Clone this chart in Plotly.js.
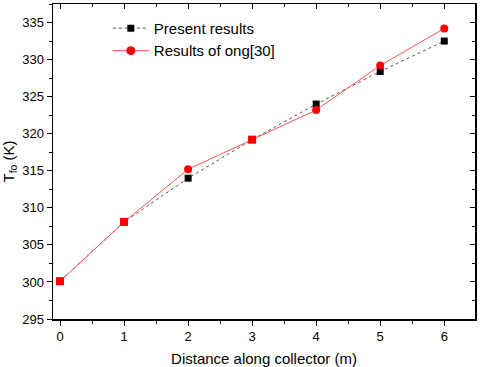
<!DOCTYPE html>
<html>
<head>
<meta charset="utf-8">
<script src="https://cdn.plot.ly/plotly-3.0.1.min.js"></script>
<style>
  html, body { margin: 0; padding: 0; background: #fff; }
  #plot { width: 480px; height: 367px; }
</style>
</head>
<body>
<div id="plot"></div>
<script>
// distance along collector (m)
const distance = [0, 1, 2, 3, 4, 5, 6];
// T_fo (K)
const present = [300.1, 308.1, 314.0, 319.2, 324.0, 328.4, 332.5];
const ong30 = [300.1, 308.1, 315.2, 319.2, 323.2, 329.2, 334.2];
// red markers look square where both series coincide
const ongSymbols = ["square", "square", "circle", "square", "circle", "circle", "circle"];

const X_RANGE = [-0.11, 6.48];
const Y_RANGE = [295, 337.5];

const font = { family: "Liberation Sans, Arial, sans-serif", color: "black" };

const redLine = { color: "#ff5050", width: 1 };

const traces = [
  {
    x: distance, y: present,
    type: "scatter", mode: "lines+markers",
    name: "Present results",
    line: { color: "#555", width: 1, dash: "dot" },
    marker: { symbol: "square", size: 7, color: "#000" }
  },
  {
    x: distance, y: ong30,
    type: "scatter", mode: "lines+markers",
    name: "Results of ong[30]",
    legendgroup: "ong", showlegend: false,
    line: redLine,
    marker: { symbol: ongSymbols, size: 8, color: "#ff0000" }
  },
  // legend entry only (circle symbol), no data drawn
  {
    x: [null], y: [null],
    type: "scatter", mode: "lines+markers",
    name: "Results of ong[30]",
    legendgroup: "ong",
    line: redLine,
    marker: { symbol: "circle", size: 9, color: "#ff0000" },
    hoverinfo: "skip"
  },
  // empty trace so the mirrored top/right axes get drawn
  {
    x: [], y: [], xaxis: "x2", yaxis: "y2",
    type: "scatter", mode: "markers",
    showlegend: false, hoverinfo: "skip"
  }
];

const baseAxis = {
  showgrid: false, zeroline: false,
  showline: true, linecolor: "#000", linewidth: 1.5,
  tickcolor: "#000", tickwidth: 1, ticklen: 5,
  tickfont: { ...font, size: 13 }
};

const layout = {
  width: 480, height: 367,
  margin: { l: 53, r: 5, t: 4, b: 48 },
  paper_bgcolor: "#fff",
  plot_bgcolor: "#fff",
  font: font,
  showlegend: true,
  legend: {
    x: 0.13, y: 0.975, xanchor: "left", yanchor: "top",
    bgcolor: "rgba(0,0,0,0)",
    font: { ...font, size: 15 },
    tracegroupgap: 0,
    itemwidth: 36
  },
  xaxis: {
    ...baseAxis,
    range: X_RANGE, dtick: 1, tick0: 0,
    ticks: "outside",
    minor: { dtick: 0.5, tick0: 0, ticks: "outside", ticklen: 3, tickcolor: "#000" },
    title: { text: "Distance along collector (m)", font: { ...font, size: 15 }, standoff: 10 }
  },
  yaxis: {
    ...baseAxis,
    range: Y_RANGE, dtick: 5, tick0: 295,
    ticks: "outside",
    minor: { dtick: 2.5, tick0: 295, ticks: "outside", ticklen: 3, tickcolor: "#000" },
    title: { text: "T<sub>fo</sub> (K)", font: { ...font, size: 15 }, standoff: 10 }
  },
  xaxis2: {
    ...baseAxis,
    overlaying: "x", side: "top", anchor: "y2",
    range: X_RANGE, dtick: 1, tick0: 0,
    ticks: "inside", showticklabels: false,
    minor: { dtick: 0.5, tick0: 0, ticks: "inside", ticklen: 3, tickcolor: "#000" }
  },
  yaxis2: {
    ...baseAxis,
    overlaying: "y", side: "right", anchor: "x2",
    range: Y_RANGE, dtick: 5, tick0: 295,
    ticks: "inside", showticklabels: false,
    minor: { dtick: 2.5, tick0: 295, ticks: "inside", ticklen: 3, tickcolor: "#000" }
  }
};

Plotly.newPlot("plot", traces, layout, { staticPlot: true });
</script>
</body>
</html>
